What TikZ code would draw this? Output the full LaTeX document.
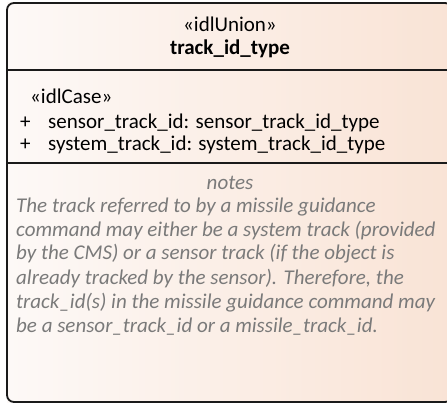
\documentclass[tikz,border=0pt]{standalone}
\usepackage{fontspec}
\setmainfont{Carlito}
\definecolor{fillL}{HTML}{FDF9F7}
\definecolor{fillR}{HTML}{F9E3D5}
\definecolor{notegray}{HTML}{7A7A7A}
\definecolor{edge}{HTML}{1A1A1A}
\begin{document}
\begin{tikzpicture}[x=1pt,y=-1pt,
  boxedge/.style={draw=edge,line width=1.8pt},
  txt/.style={font=\fontsize{21}{24}\selectfont,inner sep=0pt,anchor=base west},
  ctxt/.style={font=\fontsize{21}{24}\selectfont,inner sep=0pt,anchor=base},
  note/.style={font=\fontsize{21}{24}\selectfont\itshape,text=notegray,inner sep=0pt,anchor=base west}]
\useasboundingbox (0,0) rectangle (447,404);
\path[left color=fillL,right color=fillR] (7,3) rectangle (452,402);
\draw[boxedge,rounded corners=7pt] (7,3) rectangle (452,402);
\coordinate (s1l) at (7,70); \coordinate (s1r) at (452,70);
\coordinate (s2l) at (7,163); \coordinate (s2r) at (452,163);
\draw[boxedge] (s1l) -- (s1r);
\draw[boxedge] (s2l) -- (s2r);
\node[ctxt] (st) at (230,32) {«idlUnion»};
\node[ctxt,font=\fontsize{21}{24}\selectfont\bfseries] (nm) at (230,55) {track\_id\_type};
\node[txt] (cs) at (30,103) {«idlCase»};
\node[txt] (p1) at (20,128) {+};
\node[txt] (a1) at (48,128) {sensor\_track\_id: sensor\_track\_id\_type};
\node[txt] (p2) at (20,150) {+};
\node[txt] (a2) at (48,150) {system\_track\_id: system\_track\_id\_type};
\node[ctxt,font=\fontsize{21}{24}\selectfont\itshape,text=notegray] (nt) at (230,189) {notes};
\node[note] (n1) at (16,212) {The track referred to by a missile guidance};
\node[note] (n2) at (16,236) {command may either be a system track (provided};
\node[note] (n3) at (16,259) {by the CMS) or a sensor track (if the object is};
\node[note] (n4) at (16,284) {already tracked by the sensor). Therefore, the};
\node[note] (n5) at (16,308) {track\_id(s) in the missile guidance command may};
\node[note] (n6) at (16,332) {be a sensor\_track\_id or a missile\_track\_id.};
\end{tikzpicture}
\end{document}
